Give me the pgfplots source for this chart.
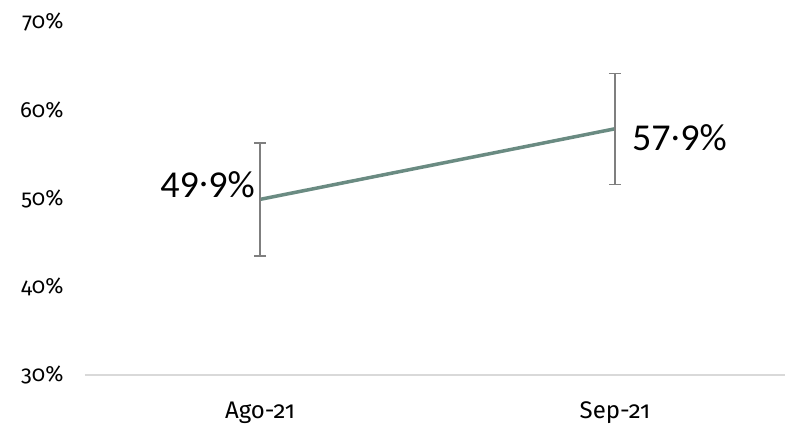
\documentclass[border=0pt]{standalone}
\usepackage{pgfplots}
\pgfplotsset{compat=1.18}
\usepackage{fontspec}
\setmainfont{Fira Sans}[Numbers=OldStyle]
\newfontfamily\lab{Carlito}[Numbers=Lining]
\newcommand{\md}{\raisebox{0.28em}{.}}
\definecolor{linec}{RGB}{106,139,130}
\definecolor{errc}{RGB}{127,127,127}
\definecolor{axc}{RGB}{217,217,217}
\begin{document}
\begin{tikzpicture}[x=1pt,y=1pt]
\begin{axis}[
  scale only axis,
  width=700pt, height=353pt,
  xmin=-0.493, xmax=1.479,
  ymin=30, ymax=70,
  xtick={0,1}, xticklabels={Ago-21,Sep-21},
  ytick={30,40,50,60,70},
  yticklabel={\pgfmathprintnumber{\tick}\%},
  /pgf/number format/assume math mode=true,
  axis line style={draw=none},
  axis x line*=bottom,
  axis y line*=left,
  major tick length=0pt,
  tick style={draw=none},
  xticklabel style={font=\fontsize{24}{26}\selectfont, yshift=-23pt},
  yticklabel style={font=\fontsize{22}{26}\selectfont, xshift=-18pt},
  clip=false,
]
\draw[axc, line width=1.2pt] (axis cs:-0.493,30) -- (axis cs:1.479,30);
\addplot[linec, line width=3.5pt, mark=none,
  error bars/.cd, y dir=both, y explicit,
  error bar style={errc, line width=1.3pt},
  error mark options={errc, line width=1.3pt, rotate=90, mark size=6pt}]
  coordinates {(0,49.9) +- (0,6.4) (1,57.9) +- (0,6.3)};
\node[anchor=base east, font=\lab\fontsize{38}{40}\selectfont, inner sep=0pt] at (axis cs:0,49.9) [xshift=-5pt, yshift=2pt] {49\md9\%};
\node[anchor=base west, font=\lab\fontsize{38}{40}\selectfont, inner sep=0pt] at (axis cs:1,57.9) [xshift=17pt, yshift=-22pt] {57\md9\%};
\end{axis}
\path[use as bounding box] (current axis.south west) ++(-85pt,-53pt) rectangle ++(789pt,428pt);
\end{tikzpicture}
\end{document}
